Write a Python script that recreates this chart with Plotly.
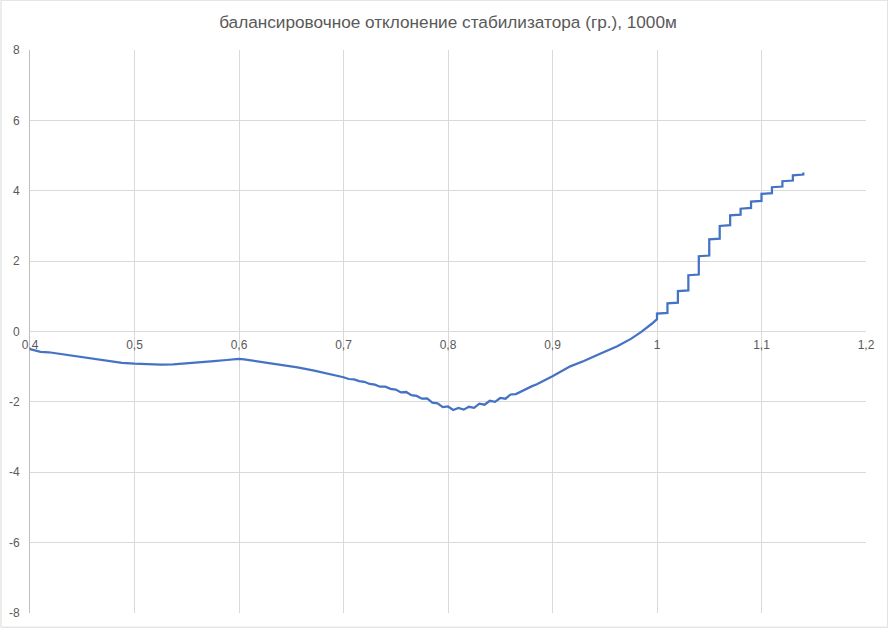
import plotly.graph_objects as go

title_text = "балансировочное отклонение стабилизатора (гр.), 1000м"

# Mach number (x) and trim stabilizer deflection, deg (y)
mach = [0.400, 0.405, 0.410, 0.418, 0.425, 0.435, 0.445, 0.455, 0.465, 0.477,
        0.488, 0.500, 0.512, 0.525, 0.537, 0.550, 0.563, 0.576, 0.588, 0.598,
        0.600, 0.605, 0.612, 0.624, 0.640, 0.656, 0.672, 0.688,
        0.700, 0.705, 0.710, 0.715, 0.720, 0.725, 0.730, 0.735, 0.740, 0.745,
        0.750, 0.755, 0.760, 0.765, 0.770, 0.775, 0.780, 0.785, 0.790, 0.795,
        0.800, 0.805, 0.810, 0.815, 0.820, 0.825, 0.830, 0.835, 0.840, 0.845,
        0.850, 0.855, 0.860, 0.865, 0.870, 0.875, 0.880, 0.885, 0.890, 0.900,
        0.917, 0.930, 0.945, 0.962, 0.975, 0.985, 0.995, 1.000,
        1.000, 1.010, 1.010, 1.020, 1.020, 1.030, 1.030, 1.040, 1.040, 1.050,
        1.050, 1.060, 1.060, 1.070, 1.070, 1.080, 1.080, 1.090, 1.090, 1.100,
        1.100, 1.110, 1.110, 1.120, 1.120, 1.130, 1.130, 1.140, 1.140]
deflection = [-0.50, -0.55, -0.58, -0.59, -0.62, -0.67, -0.72, -0.76, -0.81, -0.86,
              -0.89, -0.915, -0.93, -0.94, -0.935, -0.91, -0.875, -0.84, -0.81, -0.785,
              -0.78, -0.79, -0.82, -0.87, -0.94, -1.02, -1.11, -1.21,
              -1.30, -1.35, -1.36, -1.41, -1.43, -1.49, -1.51, -1.57, -1.57, -1.63,
              -1.65, -1.73, -1.72, -1.81, -1.83, -1.91, -1.90, -2.02, -2.04, -2.15,
              -2.13, -2.23, -2.17, -2.22, -2.14, -2.17, -2.05, -2.08, -1.97, -2.00,
              -1.89, -1.91, -1.79, -1.78, -1.70, -1.63, -1.56, -1.50, -1.43, -1.27,
              -0.99, -0.84, -0.64, -0.42, -0.21, -0.01, 0.22, 0.35,
              0.51, 0.53, 0.80, 0.82, 1.15, 1.17, 1.60, 1.62, 2.14, 2.16,
              2.62, 2.64, 3.00, 3.02, 3.30, 3.32, 3.49, 3.51, 3.69, 3.71,
              3.91, 3.93, 4.10, 4.12, 4.27, 4.29, 4.44, 4.46, 4.52]

x_tickvals = [0.4, 0.5, 0.6, 0.7, 0.8, 0.9, 1.0, 1.1, 1.2]
x_ticktext = ["0,4", "0,5", "0,6", "0,7", "0,8", "0,9", "1", "1,1", "1,2"]
y_tickvals = [-8, -6, -4, -2, 0, 2, 4, 6, 8]
y_ticktext = ["-8", "-6", "-4", "-2", "0", "2", "4", "6", "8"]

W, H = 888, 628
ML, MR, MT, MB = 29.5, 22.3, 50.3, 14.7
pw, ph = W - ML - MR, H - MT - MB

grid = "#d9d9d9"
txt = "#595959"
font_family = "Liberation Sans, Arial, sans-serif"

fig = go.Figure()
fig.add_trace(go.Scatter(x=mach, y=deflection, mode="lines",
                         line=dict(color="#4472C4", width=2.25),
                         hoverinfo="x+y", showlegend=False))

fig.update_layout(
    width=W, height=H,
    margin=dict(l=ML, r=MR, t=MT, b=MB, pad=0, autoexpand=False),
    paper_bgcolor="white", plot_bgcolor="white",
    title=dict(text=title_text, x=0.5, xref="paper", xanchor="center",
               y=1 - 22 / H, yref="container", yanchor="middle",
               automargin=False,
               font=dict(family=font_family, size=17.2, color=txt)),
    font=dict(family=font_family, size=12, color=txt),
    xaxis=dict(range=[0.4, 1.2], tickvals=x_tickvals, ticktext=x_ticktext,
               showgrid=True, gridcolor=grid, gridwidth=1,
               zeroline=False, showline=False, ticks="", automargin=False,
               anchor="free", position=0.5, ticklabelstandoff=4,
               tickfont=dict(size=12, color=txt)),
    yaxis=dict(range=[-8, 8], tickvals=y_tickvals, ticktext=y_ticktext,
               showgrid=True, gridcolor=grid, gridwidth=1, automargin=False,
               zeroline=False, showline=True, linecolor="#bfbfbf", linewidth=1,
               ticks="", ticklabelstandoff=7,
               tickfont=dict(size=12, color=txt)),
    shapes=[dict(type="rect", xref="paper", yref="paper",
                 x0=(-ML + 0.5) / pw, x1=1 + (MR - 0.5) / pw,
                 y0=(-MB + 0.5) / ph, y1=1 + (MT - 0.5) / ph,
                 line=dict(color=grid, width=1), fillcolor="rgba(0,0,0,0)",
                 layer="below")],
)

fig.write_html("out.html", config={"displayModeBar": False},
               post_script="document.body.style.margin='0';document.body.style.overflow='hidden';")
